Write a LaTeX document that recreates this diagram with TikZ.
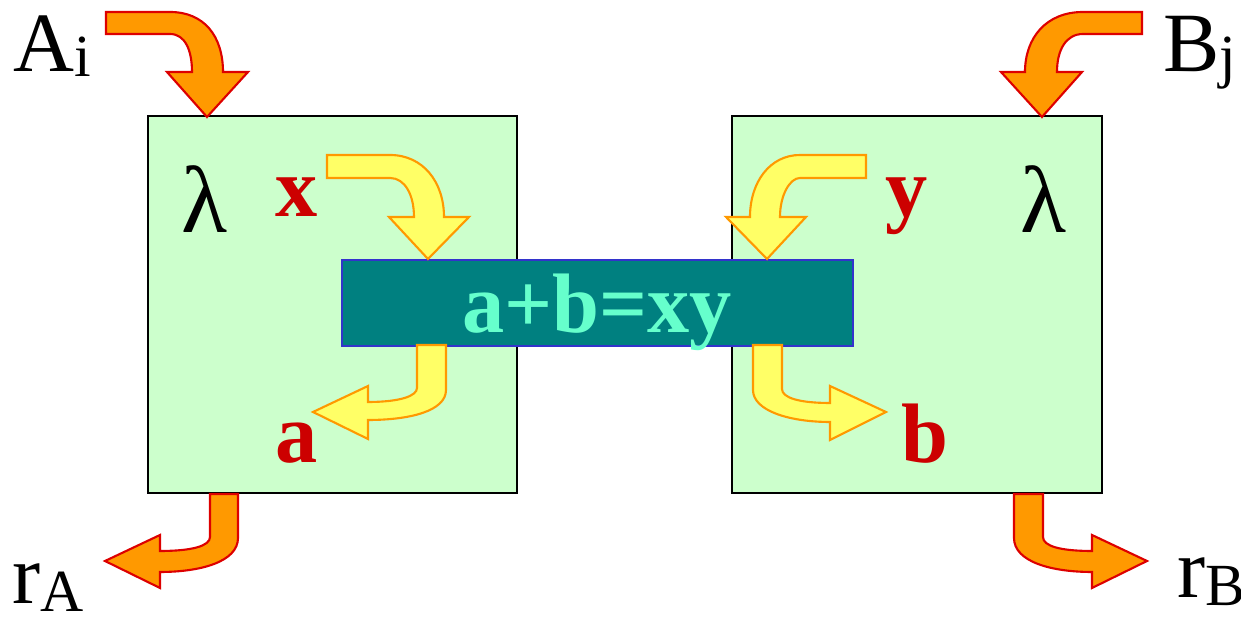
\documentclass[tikz,border=0pt]{standalone}
\usepackage{fontspec}
\setmainfont{Liberation Serif}
\definecolor{cellgreen}{HTML}{CCFFCC}
\definecolor{barteal}{HTML}{008080}
\definecolor{barblue}{HTML}{3333CC}
\definecolor{eqaqua}{HTML}{66FFCC}
\definecolor{arrorange}{HTML}{FF9900}
\definecolor{arrred}{HTML}{DD0000}
\definecolor{arryellow}{HTML}{FFFF66}
\definecolor{lblred}{HTML}{CC0000}
\tikzset{
  cell/.style={draw=black,line width=0.6pt,fill=cellgreen,minimum width=3.69cm,minimum height=3.77cm,inner sep=0},
  bar/.style={draw=barblue,line width=0.6pt,fill=barteal,minimum width=5.11cm,minimum height=0.86cm,inner sep=0},
  bigarrow/.style={fill=arrorange,draw=arrred,line width=0.6pt,line join=miter},
  smallarrow/.style={fill=arryellow,draw=arrorange,line width=0.6pt,line join=miter},
  lbl/.style={inner sep=0,anchor=base west,font=\fontsize{24}{24}\selectfont},
  var/.style={inner sep=0,anchor=base,text=lblred,font=\fontsize{24}{24}\selectfont\bfseries},
  lam/.style={inner sep=0,anchor=base,font=\fontsize{27}{27}\selectfont}
}
\newcommand{\lowsub}[2]{\raisebox{-#1}{\fontsize{17}{17}\selectfont #2}}
\begin{document}
\begin{tikzpicture}[x=0.01cm,y=-0.01cm]
  \useasboundingbox (0,0) rectangle (1241,622);
  \node[cell] (boxA) at (332.5,304.5) {};
  \node[cell] (boxB) at (917,304.5) {};
  \node[bar] (eq) at (597.5,303) {};
  % orange arrows in and out
  \filldraw[bigarrow] (106,12) -- (170,12) .. controls (204,12) and (223,36) .. (223,72) -- (248,72) -- (207,117)
    -- (167,72) -- (192,72) .. controls (192,50) and (185,34) .. (170,34) -- (106,34) -- cycle;
  \filldraw[bigarrow] (1142,12) -- (1083,12) .. controls (1046,12) and (1025,38) .. (1025,72) -- (1001,72) -- (1042,117)
    -- (1082,72) -- (1057,72) .. controls (1057,50) and (1066,34) .. (1083,34) -- (1142,34) -- cycle;
  \filldraw[bigarrow] (210,494) -- (238,494) -- (238,538) .. controls (238,562) and (200,572) .. (160,572) -- (160,588)
    -- (105,561) -- (160,535) -- (160,551) .. controls (192,551) and (210,546) .. (210,537) -- cycle;
  \filldraw[bigarrow] (1043,494) -- (1014,494) -- (1014,538) .. controls (1014,562) and (1052,572) .. (1092,572) -- (1092,588)
    -- (1147,561) -- (1092,535) -- (1092,551) .. controls (1060,551) and (1043,546) .. (1043,537) -- cycle;
  % yellow arrows to and from the bar
  \filldraw[smallarrow] (327,155) -- (390,155) .. controls (423,155) and (444,182) .. (444,217) -- (469,217) -- (428,259)
    -- (389,217) -- (414,217) .. controls (414,195) and (405,178) .. (390,178) -- (327,178) -- cycle;
  \filldraw[smallarrow] (866,155) -- (800,155) .. controls (770,155) and (750,182) .. (750,217) -- (726,217) -- (767,259)
    -- (806,217) -- (780,217) .. controls (780,195) and (790,178) .. (800,178) -- (866,178) -- cycle;
  \filldraw[smallarrow] (417,345) -- (446,345) -- (446,390) .. controls (446,411) and (410,420) .. (368,420) -- (368,439)
    -- (313,412) -- (368,386) -- (368,402) .. controls (400,402) and (417,396) .. (417,388) -- cycle;
  \filldraw[smallarrow] (782,345) -- (753,345) -- (753,390) .. controls (753,411) and (790,422) .. (830,422) -- (830,440)
    -- (886,412) -- (830,386) -- (830,403) .. controls (800,403) and (782,398) .. (782,389) -- cycle;
  \node[inner sep=0,anchor=base,text=eqaqua,font=\fontsize{24}{24}\selectfont\bfseries] (eqtext) at (597,333) {a+b=xy};
  \node[lbl] (ai) at (13,72) {A\lowsub{0.05cm}{i}};
  \node[lbl] (bj) at (1163,72) {B\lowsub{0.05cm}{j}};
  \node[lbl] (ra) at (12,604) {r\lowsub{0.08cm}{A}};
  \node[lbl] (rb) at (1177,598) {r\lowsub{0.08cm}{B}};
  \node[lam] (lamA) at (205,233) {λ};
  \node[lam] (lamB) at (1044,233) {λ};
  \node[var] (xa) at (297,217) {x};
  \node[var] (yb) at (907,217) {y};
  \node[var] (aa) at (297,463) {a};
  \node[var] (bb) at (925,463) {b};
\end{tikzpicture}
\end{document}
